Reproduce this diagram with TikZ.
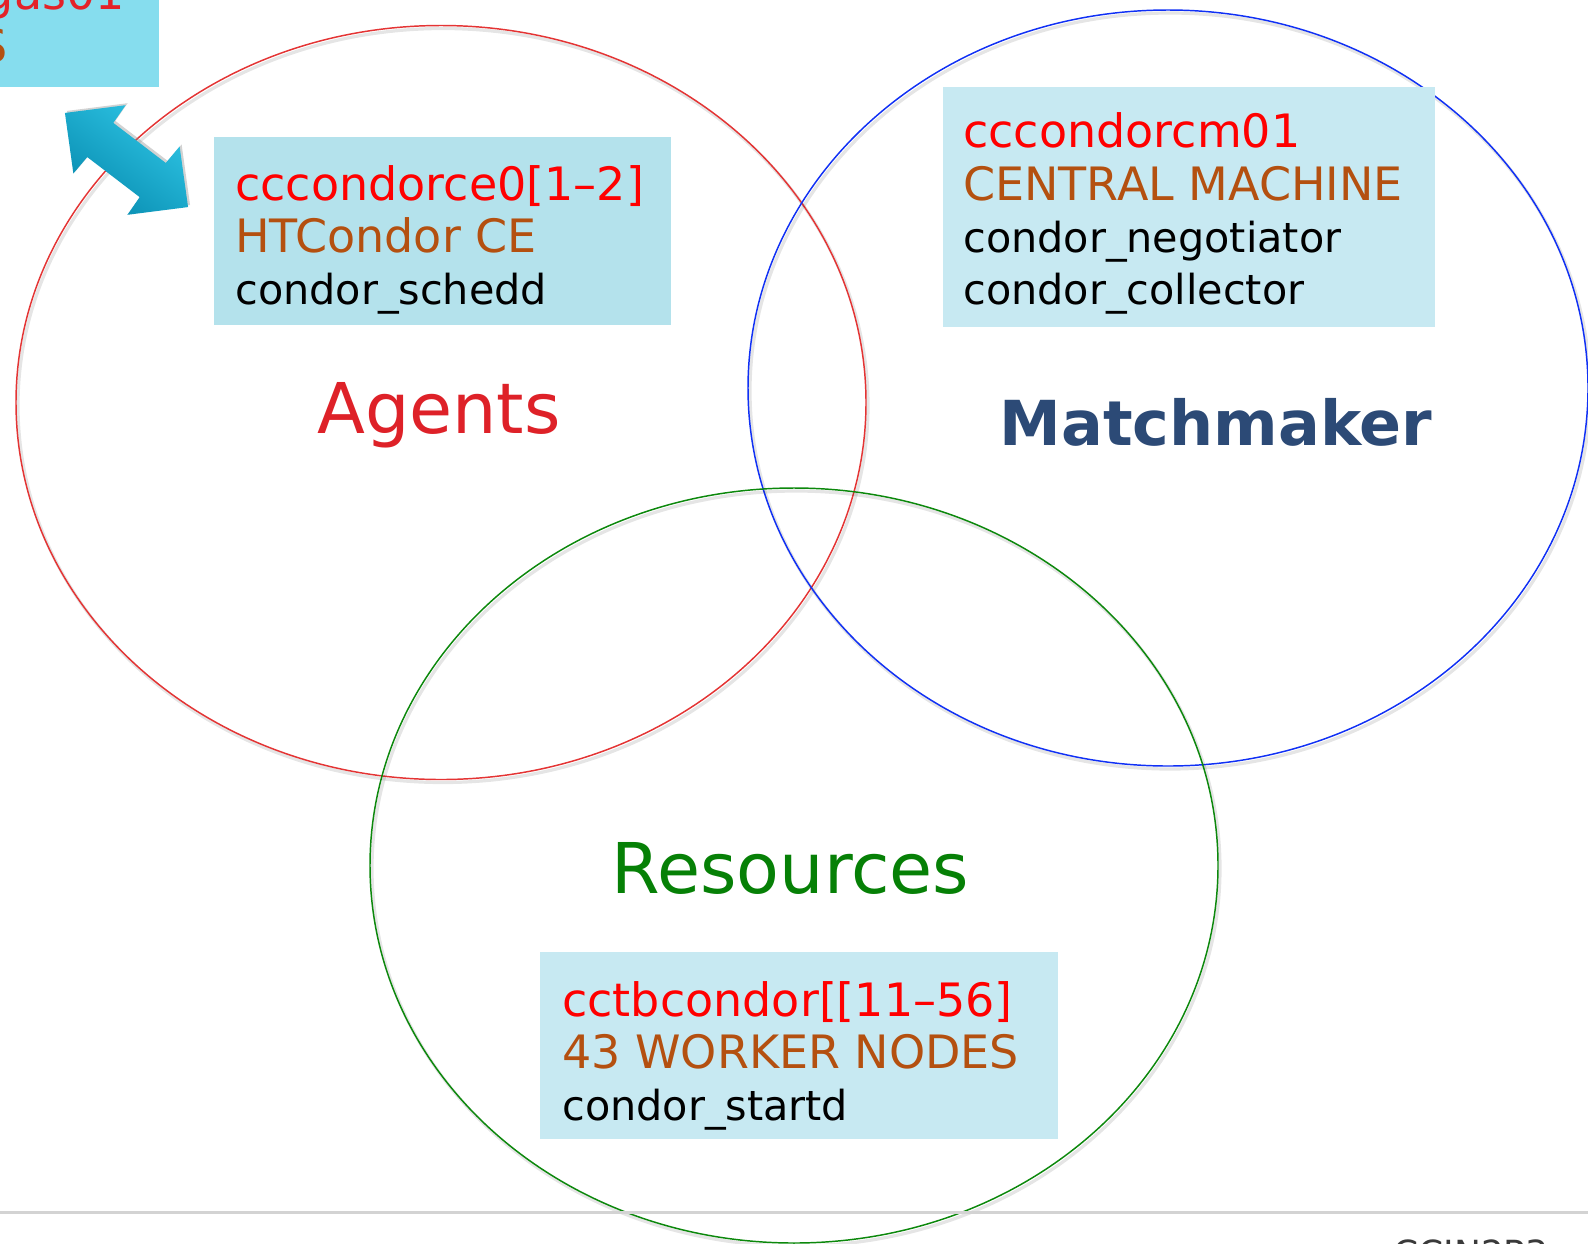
\documentclass[tikz,border=0pt]{standalone}
\usepackage{fontspec}
\setmainfont{DejaVu Sans}
\usetikzlibrary{shadows}

\definecolor{arrowlight}{RGB}{46,196,228}
\definecolor{arrowdark}{RGB}{8,140,176}

\begin{document}
\begin{tikzpicture}[x=0.75pt,y=0.75pt,yscale=-1,xscale=1,
  ring/.style={line width=1.1pt},
  ringshade/.style={draw={rgb, 255:red, 0; green, 0; blue, 0 }, draw opacity=0.10, line width=2.4pt},
  infobox/.style={fill={rgb, 255:red, 199; green, 233; blue, 242 }},
  boxtext/.style={anchor=base west, inner sep=0pt, font=\fontsize{34.5}{40}\selectfont},
  hostname/.style={boxtext, color={rgb, 255:red, 255; green, 0; blue, 0 }},
  role/.style={boxtext, color={rgb, 255:red, 180; green, 80; blue, 16 }},
  daemon/.style={boxtext, color=black, font=\fontsize{31}{36}\selectfont},
  setname/.style={anchor=base, inner sep=0pt, font=\fontsize{52.5}{60}\selectfont}]

\useasboundingbox (0,0) rectangle (1588,1243);
\fill[white] (0,0) rectangle (1588,1243);

%Shape: Ellipse (agents)
\draw[ringshade] (443,405.5) ellipse (425 and 377);
\draw[ring, draw={rgb, 255:red, 228; green, 52; blue, 52 }] (441,402.5) ellipse (425 and 377);
%Shape: Ellipse (matchmaker)
\draw[ringshade] (1170,391) ellipse (420 and 378);
\draw[ring, draw={rgb, 255:red, 16; green, 48; blue, 245 }] (1168,388) ellipse (420 and 378);
%Shape: Ellipse (resources)
\draw[ringshade] (796,868.5) ellipse (424 and 377.5);
\draw[ring, draw={rgb, 255:red, 12; green, 136; blue, 12 }] (794,865.5) ellipse (424 and 377.5);

%Straight Lines (footer)
\draw[color={rgb, 255:red, 211; green, 211; blue, 211 }, line width=2.2pt] (0,1212.5) -- (1588,1212.5);

%Shape: Rectangle
\fill[fill={rgb, 255:red, 134; green, 221; blue, 238 }] (0,0) rectangle (159,87);
%Shape: Rectangle
\fill[fill={rgb, 255:red, 180; green, 226; blue, 236 }] (214,137) rectangle (671,325);
%Shape: Rectangle
\fill[infobox] (943,87) rectangle (1435,327);
%Shape: Rectangle
\fill[infobox] (540,952) rectangle (1058,1139);

%Shape: Double Arrow
\begin{scope}[shift={(126.5,160)}, rotate=37.4]
\shade[top color=arrowlight, bottom color=arrowdark, shading angle=-37,
  drop shadow={opacity=0.35, shadow xshift=1.5pt, shadow yshift=1.5pt}]
  (-77.5,0) -- (-34,-43) -- (-33,-21.5) -- (33,-21.5) -- (34,-43) -- (77.5,0)
  -- (34,43) -- (33,21.5) -- (-33,21.5) -- (-34,43) -- cycle;
\end{scope}

% Text Node
\node[hostname, anchor=base east, color={rgb, 255:red, 228; green, 34; blue, 40 }] (uihost) at (125,9) {gas01};
% Text Node
\node[role, anchor=base east] (uirole) at (8,62) {S};

% Text Node
\node[hostname] (cehost) at (235,200) {cccondorce0[1--2]};
% Text Node
\node[role] (cerole) at (235,252) {HTCondor CE};
% Text Node
\node[daemon] (schedd) at (235,304) {condor\_schedd};

% Text Node
\node[hostname] (cmhost) at (963,147) {cccondorcm01};
% Text Node
\node[role] (cmrole) at (963,200) {CENTRAL MACHINE};
% Text Node
\node[daemon] (negotiator) at (963,252) {condor\_negotiator};
% Text Node
\node[daemon] (collector) at (963,304) {condor\_collector};

% Text Node
\node[hostname] (wnhost) at (562,1016) {cctbcondor[[11--56]};
% Text Node
\node[role] (wnrole) at (562,1068) {43 WORKER NODES};
% Text Node
\node[daemon] (startd) at (562,1120) {condor\_startd};

% Text Node
\node[setname, color={rgb, 255:red, 222; green, 33; blue, 40 }] (agents) at (439,433) {Agents};
% Text Node
\node[setname, font=\fontsize{46.5}{54}\selectfont\bfseries, color={rgb, 255:red, 44; green, 74; blue, 118 }] (matchmaker) at (1216,445) {Matchmaker};
% Text Node
\node[setname, color={rgb, 255:red, 6; green, 128; blue, 6 }] (resources) at (790.5,893) {Resources};

% Text Node
\node[anchor=north west, inner sep=0pt, font=\fontsize{27}{32}\selectfont, color={rgb, 255:red, 58; green, 58; blue, 58 }] (logo) at (1393,1239) {CCIN2P3};

\end{tikzpicture}
\end{document}
